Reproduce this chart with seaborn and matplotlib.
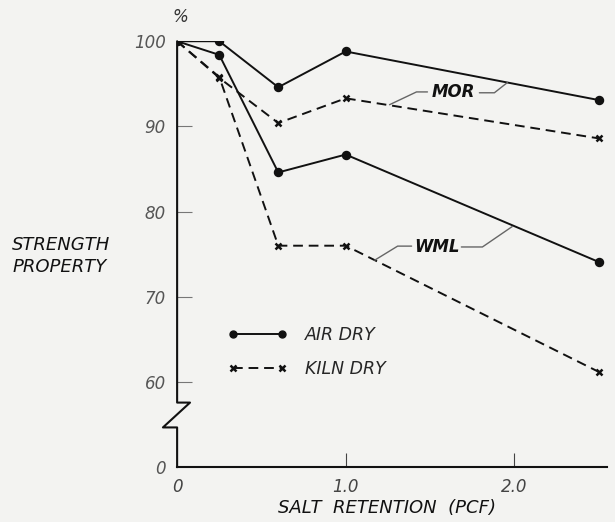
import numpy as np
import pandas as pd
import seaborn as sns
import matplotlib.pyplot as plt
from matplotlib.lines import Line2D

# salt retention (pcf)
retention = [0, 0.25, 0.6, 1.0, 2.5]

# strength property in % of untreated
mor_air = [100, 100, 94.6, 98.8, 93.1]
mor_kiln = [100, 95.7, 90.4, 93.3, 88.6]
wml_air = [100, 98.4, 84.6, 86.7, 74.1]
wml_kiln = [100, 95.8, 76.0, 76.0, 61.2]

y_ticks = [0, 60, 70, 80, 90, 100]
x_ticks = [0, 1.0, 2.0]
x_tick_labels = ['0', '1.0', '2.0']

bg = '#f3f3f1'
ink = '#111111'
dash = (0, (5, 3))

sns.set_style('white')
plt.rcParams['font.family'] = ['DejaVu Sans']
plt.rcParams['font.style'] = 'italic'

fig = plt.figure(figsize=(6.15, 5.22), dpi=100, facecolor=bg)
ax = fig.add_axes([0.288, 0.105, 0.699, 0.816], facecolor=bg)

# broken y axis: 0-60 squeezed at the bottom
def fwd(y):
    y = np.asarray(y, dtype=float)
    return np.where(y >= 60, y, 50 + y / 6.0)

def inv(v):
    v = np.asarray(v, dtype=float)
    return np.where(v >= 60, v, (v - 50) * 6.0)

ax.set_yscale('function', functions=(fwd, inv))

series = [
    (mor_air, '-', 'o'),
    (mor_kiln, dash, 'x'),
    (wml_air, '-', 'o'),
    (wml_kiln, dash, 'x'),
]
for vals, ls, mk in series:
    df = pd.DataFrame({'x': retention, 'y': vals})
    sns.lineplot(data=df, x='x', y='y', ax=ax, color=ink, linestyle=ls,
                 linewidth=1.4, marker=mk, markersize=5, markeredgewidth=1.8,
                 markeredgecolor=ink)

ax.set_xlim(0, 2.55)
ax.set_ylim(0, 100)

for s in ['top', 'right', 'left']:
    ax.spines[s].set_visible(False)
ax.spines['bottom'].set_linewidth(1.5)
ax.spines['bottom'].set_color(ink)

# left axis line with the zigzag break
tr = ax.get_yaxis_transform()
ax.plot([0, 0, -0.033, 0.03, 0, 0], [0, 28, 28, 45.5, 45.5, 100],
        transform=tr, color=ink, lw=1.5, clip_on=False)

ax.set_yticks(y_ticks)
ax.set_yticklabels([str(t) for t in y_ticks])
ax.set_xticks(x_ticks)
ax.set_xticklabels(x_tick_labels)
ax.tick_params(axis='y', direction='in', length=11, width=0.8, color='#777777',
               labelsize=12, labelcolor='#555555', pad=8, left=True)
ax.tick_params(axis='x', direction='in', length=10, width=0.8, color='#444444',
               labelsize=12, labelcolor='#444444', pad=8, bottom=True)
ax.yaxis.get_major_ticks()[0].tick1line.set_visible(False)
ax.xaxis.get_major_ticks()[0].tick1line.set_visible(False)
ax.set_xlabel('')
ax.set_ylabel('')

# axis titles
fig.text(0.293, 0.968, '%', fontsize=12, color='#333333', ha='center', va='center')
fig.text(0.02, 0.51, 'STRENGTH\nPROPERTY', fontsize=13, color=ink,
         ha='left', va='center', linespacing=1.3)
fig.text(0.63, 0.027, 'SALT  RETENTION  (PCF)', fontsize=13, color=ink,
         ha='center', va='center')

# curve labels with leader lines
lead = dict(color='#666666', lw=1.0)
ax.text(1.64, 94.0, 'MOR', fontsize=12, fontweight='bold', color=ink, ha='center', va='center')
ax.plot([1.793, 1.882, 1.959], [93.95, 93.95, 95.15], **lead)
ax.plot([1.485, 1.42, 1.26], [94.05, 94.05, 92.55], **lead)
ax.text(1.54, 75.9, 'WML', fontsize=12, fontweight='bold', color=ink, ha='center', va='center')
ax.plot([1.686, 1.811, 1.988], [75.85, 75.85, 78.25], **lead)
ax.plot([1.391, 1.308, 1.172], [75.95, 75.95, 74.3], **lead)

# legend
handles = [
    Line2D([], [], color=ink, lw=1.4, marker='o', markersize=5),
    Line2D([], [], color=ink, lw=1.4, ls=dash, marker='x', markersize=5,
           markeredgewidth=1.8),
]
ax.legend(handles, ['AIR DRY', 'KILN DRY'], numpoints=2, frameon=False,
          loc='center left', bbox_to_anchor=(0.119, 0.27), borderpad=0,
          borderaxespad=0, handlelength=3.4, handletextpad=1.0,
          labelspacing=0.95, fontsize=12.5)

fig.savefig('out.png', dpi=100, facecolor=bg)
